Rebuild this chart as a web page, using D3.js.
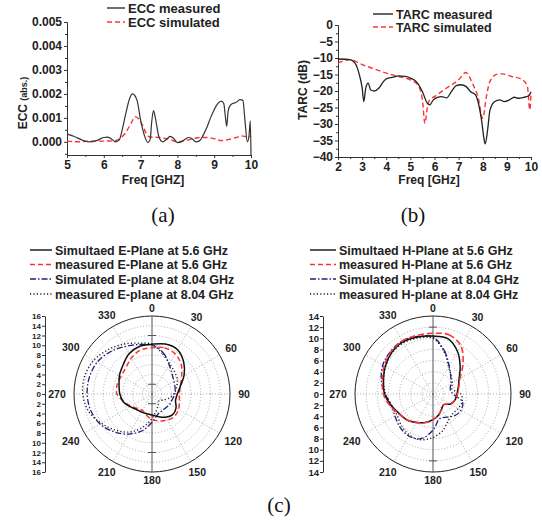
<!DOCTYPE html>
<html>
<head>
<meta charset="utf-8">
<script src="https://cdn.jsdelivr.net/npm/d3@7"></script>
<style>
body { margin: 0; background: #fff; }
svg { display: block; font-family: "Liberation Sans", Arial, sans-serif; }
.axis text { font-weight: bold; font-size: 12px; fill: #222; }
.axis path, .axis line { stroke: #333; }
</style>
</head>
<body>
<svg width="542" height="525"></svg>
<script>
// ECC (a)
var eccFreqMeas = [5.0, 5.2, 5.4, 5.6, 5.8, 6.0, 6.1, 6.2, 6.32, 6.42, 6.5, 6.6, 6.7, 6.78, 6.9, 7.0, 7.1, 7.2, 7.26, 7.3, 7.35, 7.4, 7.5, 7.6, 7.7, 7.8, 7.9, 8.0, 8.1, 8.2, 8.3, 8.4, 8.5, 8.6, 8.7, 8.8, 8.9, 9.0, 9.1, 9.2, 9.26, 9.3, 9.34, 9.38, 9.45, 9.6, 9.7, 9.78, 9.83, 9.9, 9.95, 9.98, 10.0];
var eccMeas = [0.00032, 0.00022, 0.00008, 0.0, 0.00005, 0.00018, 0.0002, 0.00013, 0.0, 0.00008, 0.0005, 0.0012, 0.0018, 0.002, 0.00175, 0.0009, 0.00028, -0.00003, 0.0001, 0.0008, 0.0013, 0.001, 0.0002, 0.0, 0.0001, 0.00023, 0.00014, -0.00003, 0.0, 0.0001, 0.00018, 0.00013, 0.0, 0.00004, 0.00028, 0.0006, 0.001, 0.00134, 0.0016, 0.0017, 0.0016, 0.0011, 0.00065, 0.0013, 0.00155, 0.00165, 0.00176, 0.00173, 0.001, 0.0, 0.0003, 0.00088, -0.00055];
var eccFreqSim = [5.0, 5.3, 5.6, 6.0, 6.3, 6.45, 6.6, 6.75, 6.85, 6.95, 7.05, 7.15, 7.25, 7.5, 7.8, 8.0, 8.3, 8.6, 8.8, 9.0, 9.2, 9.4, 9.6, 9.75, 9.9, 10.0];
var eccSim = [0.00003, 0.0, 0.00003, 0.00003, 0.00005, 0.00015, 0.0004, 0.0008, 0.00105, 0.00095, 0.0007, 0.00035, 0.0002, 0.00018, 0.0001, 0.0, 0.00008, 0.00018, 0.00018, 0.00013, 0.00005, 0.0001, 0.00018, 0.00025, 0.0002, 0.00025];

// TARC (b)
var tarcFreqMeas = [2.0, 2.5, 2.7, 2.8, 2.9, 3.0, 3.07, 3.15, 3.25, 3.35, 3.5, 3.7, 3.9, 4.0, 4.3, 4.5, 4.8, 5.0, 5.3, 5.5, 5.7, 5.8, 5.95, 6.1, 6.3, 6.5, 6.7, 6.9, 7.1, 7.3, 7.5, 7.7, 7.85, 7.95, 8.05, 8.1, 8.2, 8.3, 8.5, 8.7, 8.9, 9.1, 9.3, 9.5, 9.7, 9.9, 10.0];
var tarcMeas = [-10.3, -10.5, -11.5, -13, -15.5, -19, -23.2, -19.1, -17.6, -19.6, -20, -19.1, -17, -16.3, -15.8, -15.4, -15.6, -16.1, -17.6, -20.2, -23.7, -24.2, -22.7, -22, -21.7, -22.1, -20.2, -18.4, -18.1, -18.6, -20.2, -21.2, -24.7, -28.8, -34.4, -36, -31.9, -25.8, -23.2, -22.7, -23.2, -22.7, -21.9, -22.2, -21.9, -21.5, -20.2];
var tarcFreqSim = [2.0, 2.5, 3.0, 3.5, 4.0, 4.5, 5.0, 5.3, 5.5, 5.6, 5.7, 5.8, 6.0, 6.5, 7.0, 7.3, 7.6, 7.8, 8.0, 8.15, 8.3, 8.6, 8.8, 9.2, 9.6, 9.85, 9.95, 10.0];
var tarcSim = [-11.5, -10.5, -12, -13.3, -14.6, -15.6, -16.6, -18.1, -22.7, -29.8, -25.2, -22.7, -21.7, -19.1, -16.6, -14.4, -18.1, -21.7, -28.3, -21.7, -17.1, -14.9, -14.8, -15.6, -16.4, -18.6, -25.7, -21.2];

// radiation patterns (c), one value every 15 degrees
var polarAngles = [0, 15, 30, 45, 60, 75, 90, 105, 120, 135, 150, 165, 180, 195, 210, 225, 240, 255, 270, 285, 300, 315, 330, 345];
var angleLabels = [0, 30, 60, 90, 120, 150, 180, 210, 240, 270, 300, 330];
var eSim56 = [10.2, 10.6, 10.5, 9.2, 7.6, 6.0, 5.2, 5.0, 5.7, 6.0, 5.5, 4.8, 4.3, 4.2, 4.3, 4.5, 5.2, 6.1, 6.6, 7.0, 7.7, 8.4, 9.5, 10.1];
var eMeas56 = [9.5, 9.8, 9.5, 8.5, 7.0, 6.0, 5.6, 5.8, 6.3, 6.5, 6.2, 5.7, 5.2, 4.5, 3.9, 4.2, 5.0, 6.0, 7.2, 7.4, 7.3, 7.6, 8.5, 9.3];
var eSim804 = [10.0, 8.8, 7.0, 5.8, 5.2, 4.9, 4.7, 4.3, 4.2, 4.0, 4.0, 4.4, 5.8, 7.8, 9.5, 11.0, 12.3, 13.0, 13.3, 13.3, 13.0, 12.2, 11.2, 10.5];
var eMeas804 = [10.2, 8.5, 7.2, 6.5, 6.0, 5.2, 4.5, 3.5, 2.5, 2.0, 2.5, 3.5, 5.0, 7.0, 9.0, 10.5, 12.0, 13.5, 14.2, 14.3, 13.8, 12.8, 11.8, 10.8];
var hSim56 = [10.4, 10.3, 8.8, 6.9, 5.4, 4.7, 4.3, 4.1, 3.6, 2.7, 3.1, 3.9, 4.6, 5.3, 5.9, 6.6, 7.0, 7.8, 8.7, 9.2, 9.9, 10.5, 10.8, 10.6];
var hMeas56 = [10.9, 11.0, 10.0, 7.6, 5.6, 4.8, 4.4, 4.1, 3.6, 2.7, 3.1, 3.9, 4.6, 5.3, 5.9, 6.6, 7.1, 8.0, 8.9, 9.4, 10.1, 10.7, 11.0, 10.9];
var hSim804 = [10.2, 8.0, 5.8, 4.5, 3.7, 3.2, 3.6, 5.5, 5.8, 5.5, 4.8, 4.6, 6.5, 8.3, 8.7, 8.4, 7.9, 7.7, 8.6, 9.6, 10.4, 10.8, 11.0, 10.7];
var hMeas804 = [10.0, 7.8, 5.6, 4.6, 4.0, 3.5, 5.0, 5.4, 5.2, 5.0, 5.5, 6.8, 7.8, 8.5, 8.5, 8.0, 7.5, 7.8, 8.5, 9.2, 9.8, 10.4, 10.6, 10.4];

var svg = d3.select('svg');
svg.append('rect').attr('width', 542).attr('height', 525).attr('fill', '#fff');

var RED = '#ff3030', BLUE = '#1e1e82';

function zip(xs, ys) {
  return xs.map((x, i) => ({x: x, y: ys[i]}));
}

function legendRow(x1, x2, y, txt, color, dash, size) {
  svg.append('line')
    .attr('x1', x1).attr('x2', x2).attr('y1', y).attr('y2', y)
    .attr('stroke', color).attr('stroke-width', 1.4)
    .attr('stroke-dasharray', dash);
  svg.append('text')
    .attr('x', x2 + 3).attr('y', y + size * 0.36)
    .attr('font-size', size).attr('font-weight', 'bold').attr('fill', '#222')
    .text(txt);
}

// ---------- (a) ECC ----------
var xA = d3.scaleLinear().domain([5, 10]).range([67, 251]);
var yA = d3.scaleLinear().domain([-0.00055, 0.005]).range([155, 22]);

svg.append('g').attr('class', 'axis').attr('transform', 'translate(0,155)')
  .call(d3.axisBottom(xA).tickValues([5, 6, 7, 8, 9, 10]).tickFormat(d3.format('d')).tickSizeOuter(0).tickSize(3).tickPadding(2));
svg.append('g').attr('class', 'axis').attr('transform', 'translate(0,155)')
  .call(d3.axisBottom(xA).tickValues([5.5, 6.5, 7.5, 8.5, 9.5]).tickSize(2).tickSizeOuter(0).tickFormat(''));
svg.append('g').attr('class', 'axis').attr('transform', 'translate(67,0)')
  .call(d3.axisLeft(yA).tickValues([0, 0.001, 0.002, 0.003, 0.004, 0.005]).tickFormat(d3.format('.3f')).tickSize(3).tickPadding(2).tickSizeOuter(0));
svg.append('g').attr('class', 'axis').attr('transform', 'translate(67,0)')
  .call(d3.axisLeft(yA).tickValues([-0.0005, 0.0005, 0.0015, 0.0025, 0.0035, 0.0045]).tickSize(2).tickSizeOuter(0).tickFormat(''));

var lineA = d3.line().x(d => xA(d.x)).y(d => yA(d.y)).curve(d3.curveMonotoneX);
svg.append('path').datum(zip(eccFreqSim, eccSim)).attr('d', lineA)
  .attr('fill', 'none').attr('stroke', RED).attr('stroke-width', 1.4).attr('stroke-dasharray', '5,3');
svg.append('path').datum(zip(eccFreqMeas, eccMeas)).attr('d', lineA)
  .attr('fill', 'none').attr('stroke', '#333').attr('stroke-width', 1.2);

svg.append('text').attr('x', 153).attr('y', 184).attr('text-anchor', 'middle')
  .attr('font-size', 12).attr('font-weight', 'bold').attr('fill', '#222').text('Freq [GHZ]');
var yTitleA = svg.append('text').attr('transform', 'translate(27,103) rotate(-90)')
  .attr('text-anchor', 'middle').attr('font-size', 12).attr('font-weight', 'bold').attr('fill', '#222');
yTitleA.append('tspan').text('ECC ');
yTitleA.append('tspan').attr('font-size', 9).text('(abs.)');

legendRow(107, 125, 8, 'ECC measured', '#333', null, 13);
legendRow(107, 125, 22, 'ECC simulated', RED, '5,3', 13);

svg.append('text').attr('x', 163).attr('y', 222).attr('text-anchor', 'middle')
  .attr('font-family', '"Liberation Serif", "Times New Roman", serif').attr('font-size', 21).attr('fill', '#111').text('(a)');

// ---------- (b) TARC ----------
var xB = d3.scaleLinear().domain([2, 10]).range([338, 531]);
var yB = d3.scaleLinear().domain([-40, 0]).range([157, 25]);

svg.append('g').attr('class', 'axis').attr('transform', 'translate(0,157)')
  .call(d3.axisBottom(xB).tickValues(d3.range(2, 11)).tickSizeOuter(0).tickSize(3).tickPadding(2));
svg.append('g').attr('class', 'axis').attr('transform', 'translate(0,157)')
  .call(d3.axisBottom(xB).tickValues(d3.range(2.5, 10, 1)).tickSize(2).tickSizeOuter(0).tickFormat(''));
svg.append('g').attr('class', 'axis').attr('transform', 'translate(338,0)')
  .call(d3.axisLeft(yB).tickValues(d3.range(-40, 1, 5)).tickSize(3).tickPadding(2).tickSizeOuter(0));
svg.append('g').attr('class', 'axis').attr('transform', 'translate(338,0)')
  .call(d3.axisLeft(yB).tickValues(d3.range(-37.5, 0, 5)).tickSize(2).tickSizeOuter(0).tickFormat(''));

var lineB = d3.line().x(d => xB(d.x)).y(d => yB(d.y)).curve(d3.curveMonotoneX);
svg.append('path').datum(zip(tarcFreqSim, tarcSim)).attr('d', lineB)
  .attr('fill', 'none').attr('stroke', RED).attr('stroke-width', 1.4).attr('stroke-dasharray', '5,3');
svg.append('path').datum(zip(tarcFreqMeas, tarcMeas)).attr('d', lineB)
  .attr('fill', 'none').attr('stroke', '#222').attr('stroke-width', 1.3);

svg.append('text').attr('x', 429).attr('y', 184).attr('text-anchor', 'middle')
  .attr('font-size', 12).attr('font-weight', 'bold').attr('fill', '#222').text('Freq [GHz]');
svg.append('text').attr('transform', 'translate(307,90) rotate(-90)')
  .attr('text-anchor', 'middle').attr('font-size', 12).attr('font-weight', 'bold').attr('fill', '#222').text('TARC (dB)');

legendRow(373, 393, 14, 'TARC measured', '#222', null, 12.5);
legendRow(373, 393, 27, 'TARC simulated', RED, '5,3', 12.5);

svg.append('text').attr('x', 413).attr('y', 222).attr('text-anchor', 'middle')
  .attr('font-family', '"Liberation Serif", "Times New Roman", serif').attr('font-size', 21).attr('fill', '#111').text('(b)');

// ---------- (c) polar patterns ----------
function polar(cx, cy, R, maxV, scaleX, scaleFont, spokeTicks, series) {
  var g = svg.append('g').attr('transform', 'translate(' + cx + ',' + cy + ')');
  var r = d3.scaleLinear().domain([0, maxV]).range([0, R]);

  // rings
  g.selectAll('.ring').data(d3.range(2, maxV, 2)).enter().append('circle')
    .attr('r', d => r(d)).attr('fill', 'none')
    .attr('stroke', '#888').attr('stroke-width', 0.7).attr('stroke-dasharray', '1,2');
  // spokes
  g.selectAll('.spoke').data([30, 60, 90, 120, 150, 210, 240, 270, 300, 330]).enter().append('line')
    .attr('x1', 0).attr('y1', 0)
    .attr('x2', d => R * Math.sin(d * Math.PI / 180))
    .attr('y2', d => -R * Math.cos(d * Math.PI / 180))
    .attr('stroke', '#888').attr('stroke-width', 0.7).attr('stroke-dasharray', '1,2');
  g.append('circle').attr('r', R).attr('fill', 'none').attr('stroke', '#222').attr('stroke-width', 1);
  g.append('line').attr('x1', 0).attr('x2', 0).attr('y1', -R).attr('y2', R)
    .attr('stroke', '#555').attr('stroke-width', 1);
  spokeTicks.forEach(v => {
    [-1, 1].forEach(s => {
      g.append('line').attr('x1', -4).attr('x2', 4).attr('y1', s * r(v)).attr('y2', s * r(v))
        .attr('stroke', '#555').attr('stroke-width', 1);
    });
  });

  // angle labels
  g.selectAll('.alab').data(angleLabels).enter().append('text')
    .attr('x', d => {
      var a = d * Math.PI / 180;
      return (R + 8 + Math.abs(Math.sin(a)) * String(d).length * 3) * Math.sin(a);
    })
    .attr('y', d => {
      var a = d * Math.PI / 180;
      return -(R + 8 + Math.abs(Math.sin(a)) * String(d).length * 3) * Math.cos(a);
    })
    .attr('dy', '0.35em').attr('text-anchor', 'middle')
    .attr('font-size', 10.5).attr('font-weight', 'bold').attr('fill', '#222')
    .text(d => d);

  var lr = d3.lineRadial()
    .angle(d => d.a * Math.PI / 180)
    .radius(d => r(d.v))
    .curve(d3.curveCatmullRomClosed);
  series.forEach(s => {
    g.append('path').datum(polarAngles.map((a, i) => ({a: a, v: s.vals[i]})))
      .attr('d', lr).attr('fill', 'none')
      .attr('stroke', s.color).attr('stroke-width', s.w)
      .attr('stroke-dasharray', s.dash);
  });

  // side scale
  var ys = d3.scaleLinear().domain([-maxV, maxV]).range([cy + R, cy - R]);
  var sc = svg.append('g').attr('class', 'axis').attr('transform', 'translate(' + scaleX + ',0)')
    .call(d3.axisLeft(ys).tickValues(d3.range(-maxV, maxV + 1, 2)).tickFormat(d => Math.abs(d))
      .tickSize(3).tickPadding(1).tickSizeOuter(0));
  sc.selectAll('text').style('font-size', scaleFont + 'px');
}

polar(152, 394, 78, 16, 45, 8, [2, 12], [
  {vals: eMeas804, color: '#222', w: 1.4, dash: '1.2,2.2'},
  {vals: eSim804, color: BLUE, w: 1.3, dash: '6,2,1.5,2'},
  {vals: eMeas56, color: RED, w: 1.5, dash: '5,3'},
  {vals: eSim56, color: '#111', w: 1.5, dash: null}
]);
polar(433, 394, 78, 14, 323, 9.5, [12], [
  {vals: hMeas804, color: '#222', w: 1.4, dash: '1.2,2.2'},
  {vals: hSim804, color: BLUE, w: 1.3, dash: '6,2,1.5,2'},
  {vals: hSim56, color: '#111', w: 1.5, dash: null},
  {vals: hMeas56, color: RED, w: 1.6, dash: '6,3'}
]);

var rows = [250, 264.5, 279, 294];
legendRow(30, 52, rows[0], 'Simultaed E-Plane at 5.6 GHz', '#111', null, 12.5);
legendRow(30, 52, rows[1], 'measured E-Plane at 5.6 GHz', RED, '5,3', 12.5);
legendRow(30, 52, rows[2], 'Simulated E-plane at 8.04 GHz', BLUE, '6,2,1.5,2', 12.5);
legendRow(30, 52, rows[3], 'measured E-plane at 8.04 GHz', '#222', '1.2,2.2', 12.5);
legendRow(310, 336, rows[0], 'Simultaed H-Plane at 5.6 GHz', '#111', null, 12.5);
legendRow(310, 336, rows[1], 'measured H-Plane at 5.6 GHz', RED, '5,3', 12.5);
legendRow(310, 336, rows[2], 'Simulated H-plane at 8.04 GHz', BLUE, '6,2,1.5,2', 12.5);
legendRow(310, 336, rows[3], 'measured H-plane at 8.04 GHz', '#222', '1.2,2.2', 12.5);

svg.append('text').attr('x', 279).attr('y', 512).attr('text-anchor', 'middle')
  .attr('font-family', '"Liberation Serif", "Times New Roman", serif').attr('font-size', 21).attr('fill', '#111').text('(c)');
</script>
</body>
</html>
